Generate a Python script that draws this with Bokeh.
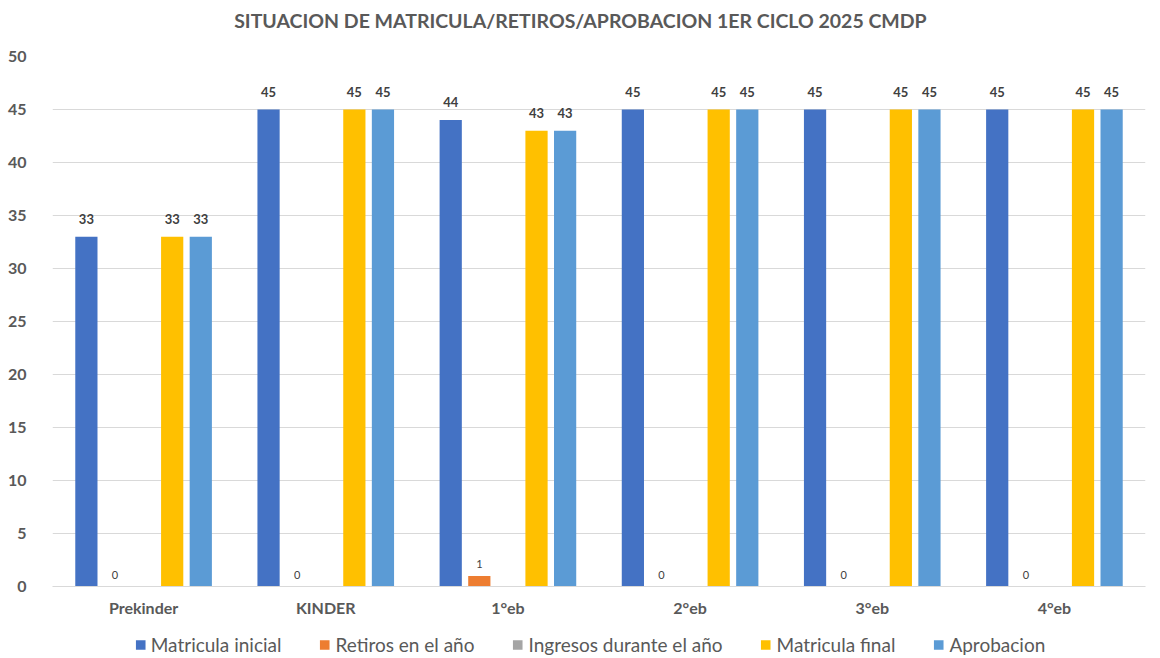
from bokeh.plotting import figure
from bokeh.layouts import column
from bokeh.models import ColumnDataSource, Legend, LegendItem, Label
from bokeh.transform import dodge
from bokeh.embed import file_html
from bokeh.resources import INLINE

categories = ["Prekinder", "KINDER", "1°eb", "2°eb", "3°eb", "4°eb"]
matricula_inicial = [33, 45, 44, 45, 45, 45]
retiros = [0, 0, 1, 0, 0, 0]
ingresos = [float("nan")] * 6
matricula_final = [33, 45, 43, 45, 45, 45]
aprobacion = [33, 45, 43, 45, 45, 45]
series_names = ["Matricula inicial", "Retiros en el año", "Ingresos durante el año",
                "Matricula final", "Aprobacion"]
colors = ["#4472c4", "#ed7d31", "#a5a5a5", "#ffc000", "#5b9bd5"]
title_text = "SITUACION DE MATRICULA/RETIROS/APROBACION 1ER CICLO 2025 CMDP"

FONT = "Lato"
source = ColumnDataSource(dict(
    cat=categories, mi=matricula_inicial, re=retiros, ing=ingresos,
    mf=matricula_final, ap=aprobacion,
    mi_l=[str(v) for v in matricula_inicial], re_l=[str(v) for v in retiros],
    mf_l=[str(v) for v in matricula_final], ap_l=[str(v) for v in aprobacion],
))

# title strip
tt = figure(width=1160, height=40, output_backend="svg", toolbar_location=None,
            x_axis_location=None, y_axis_location=None, min_border=0,
            x_range=(0, 1), y_range=(0, 1))
tt.grid.visible = False
tt.outline_line_color = None
tt.add_layout(Label(x=0.483, y=0.5, text=title_text, text_align="center",
                    text_baseline="middle", text_font=FONT, text_font_size="19.5px",
                    text_font_style="bold", text_color="#595959"))

p = figure(x_range=categories, y_range=(0, 50),
           frame_width=1093, frame_height=530,
           output_backend="svg", toolbar_location=None,
           min_border_left=52, min_border_right=15, min_border_top=16,
           min_border_bottom=44)

offsets = [-0.314, -0.157, 0.0, 0.157, 0.314]
fields = ["mi", "re", "ing", "mf", "ap"]
for f, off, c in zip(fields, offsets, colors):
    p.vbar(x=dodge("cat", off, range=p.x_range), top=f, width=0.122,
           source=source, fill_color=c, line_color=None)

for f, off in zip(["mi", "mf", "ap"], [offsets[0], offsets[3], offsets[4]]):
    p.text(x=dodge("cat", off, range=p.x_range), y=f, text=f + "_l", source=source,
           text_align="center", text_baseline="bottom", y_offset=-13,
           text_font_size="13px", text_font_style="bold", text_color="#404040",
           text_font={"value": FONT})
p.text(x=dodge("cat", offsets[1], range=p.x_range), y="re", text="re_l", source=source,
       text_align="center", text_baseline="bottom", y_offset=-8,
       text_font_size="11px", text_color="#404040", text_font={"value": FONT})

p.yaxis.ticker = list(range(0, 51, 5))
p.yaxis.major_label_text_font = FONT
p.yaxis.major_label_text_font_size = "16px"
p.yaxis.major_label_text_font_style = "bold"
p.yaxis.major_label_text_color = "#595959"
p.yaxis.axis_line_color = None
p.yaxis.major_tick_line_color = None
p.yaxis.minor_tick_line_color = None
p.yaxis.major_label_standoff = 20

p.xaxis.major_label_text_font = FONT
p.xaxis.major_label_text_font_size = "16px"
p.xaxis.major_label_text_font_style = "bold"
p.xaxis.major_label_text_color = "#595959"
p.xaxis.axis_line_color = "#d9d9d9"
p.xaxis.major_tick_line_color = None
p.xaxis.minor_tick_line_color = None
p.xaxis.major_label_standoff = 5

p.xgrid.grid_line_color = None
p.ygrid.grid_line_color = "#d9d9d9"
p.outline_line_color = None

# legend strip
lg = figure(width=1142, height=28, output_backend="svg", toolbar_location=None,
            x_axis_location=None, y_axis_location=None, min_border=0,
            x_range=(0, 1), y_range=(0, 1))
lg.grid.visible = False
lg.outline_line_color = None
items = []
for n, c in zip(series_names, colors):
    r = lg.vbar(x=[0.5], top=[0], bottom=[0], width=0.01, fill_color=c, line_color=None)
    items.append(LegendItem(label=n, renderers=[r]))
legend = Legend(items=items, orientation="horizontal", location="center")
legend.label_text_font = FONT
legend.label_text_font_size = "19px"
legend.label_text_color = "#595959"
legend.glyph_width = 12
legend.glyph_height = 12
legend.spacing = 37
legend.label_standoff = 5
legend.border_line_color = None
legend.background_fill_alpha = 0
legend.padding = 0
legend.margin = 0
lg.add_layout(legend, "center")

layout = column(tt, p, lg, spacing=0)
open("out.html", "w").write(file_html(layout, INLINE))
